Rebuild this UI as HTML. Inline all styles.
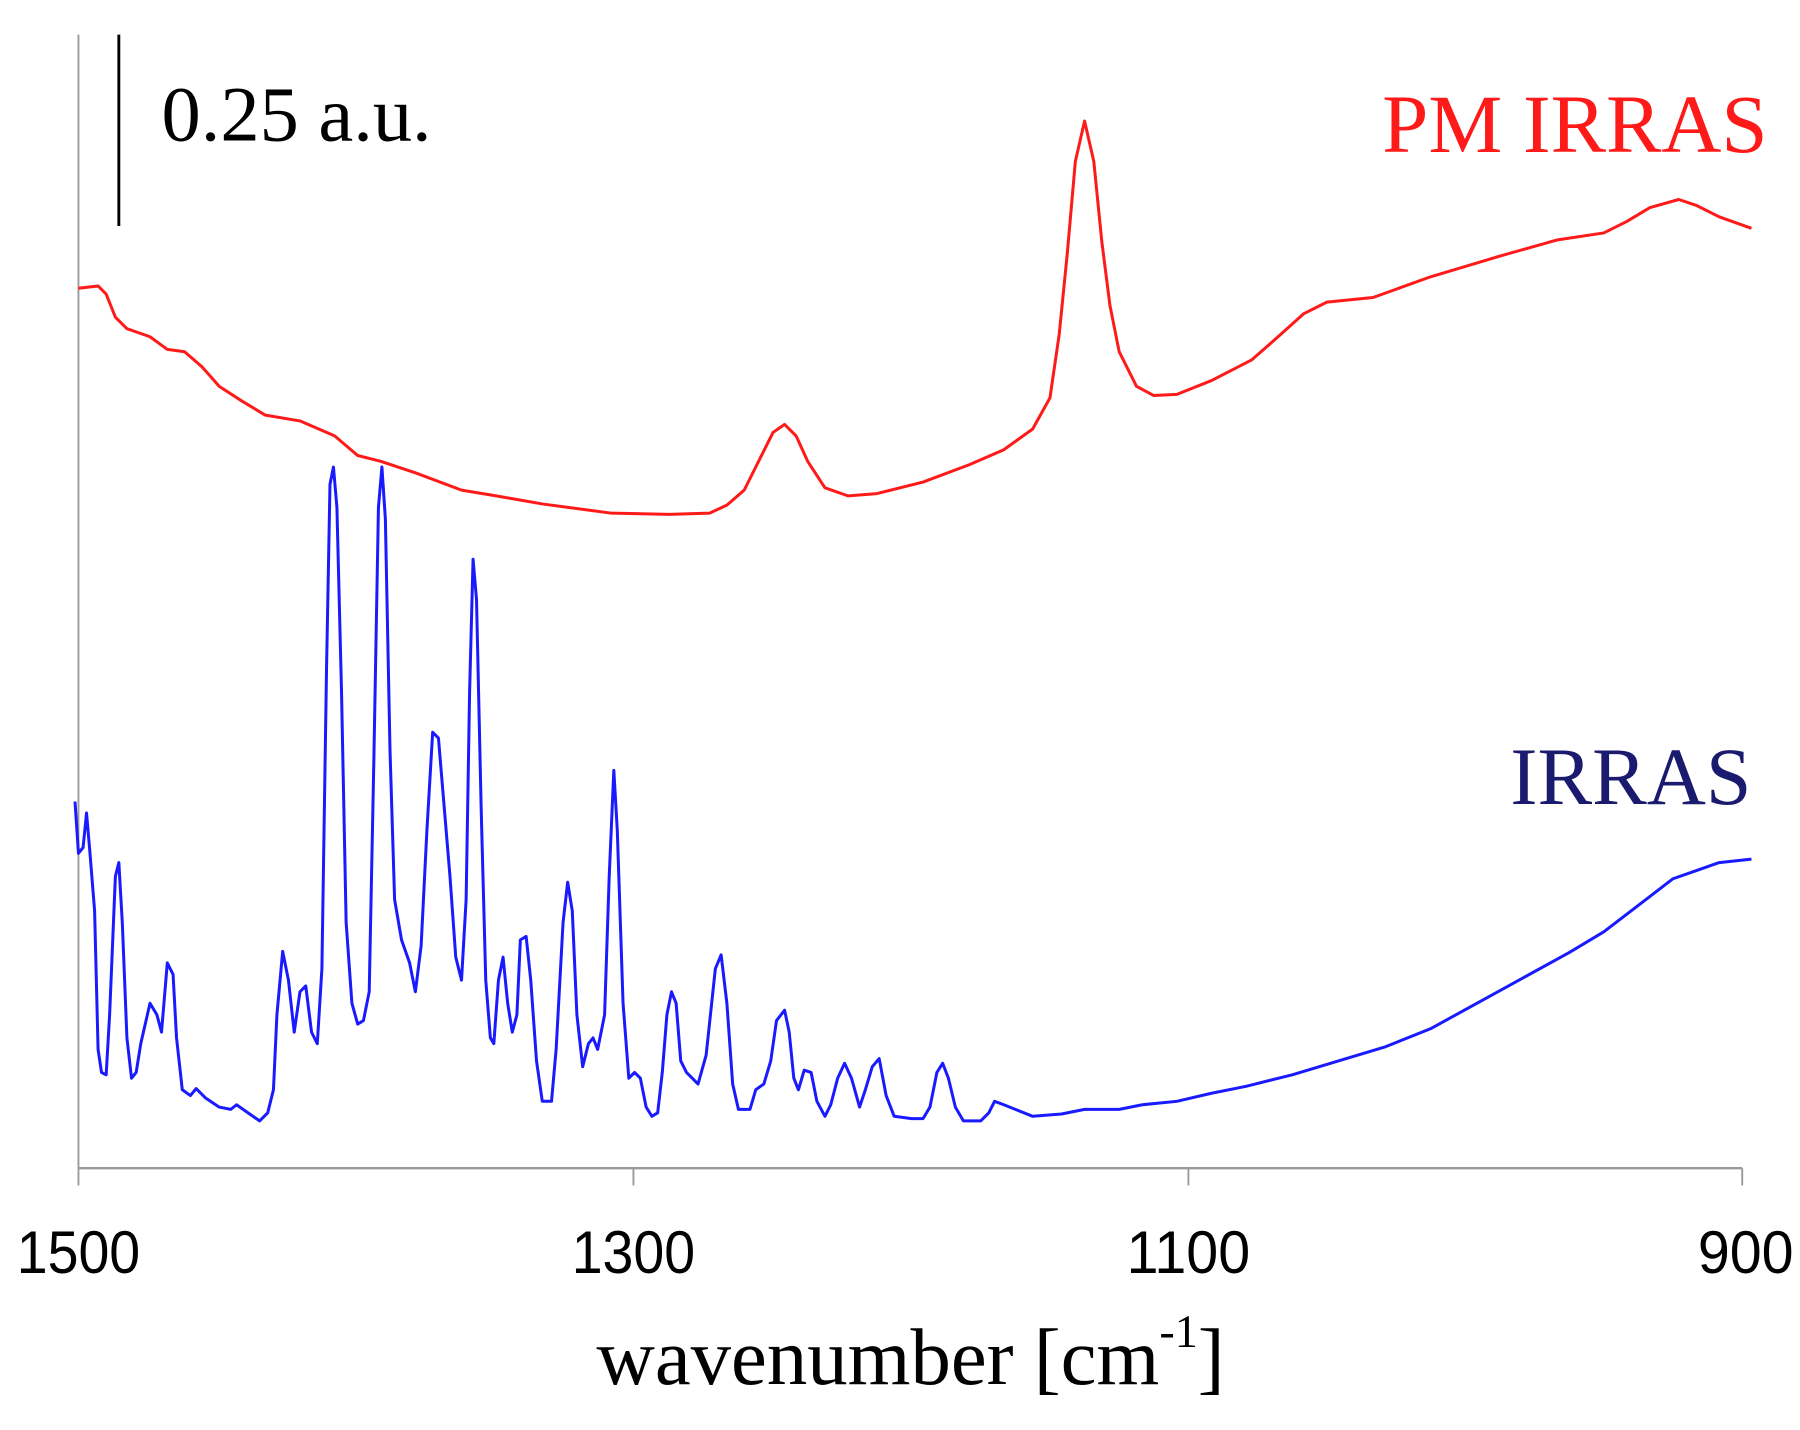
<!DOCTYPE html>
<html><head><meta charset="utf-8"><style>html,body{margin:0;padding:0;background:#fff}svg{display:block}</style></head>
<body>
<svg width="1800" height="1430" viewBox="0 0 1800 1430" xmlns="http://www.w3.org/2000/svg">
<rect width="1800" height="1430" fill="#fff"/>
<g transform="scale(1.1538,1.1532)">
<line x1="68" y1="30" x2="68" y2="1013" stroke="#999" stroke-width="1.6"/>
<line x1="68" y1="1013" x2="1510" y2="1013" stroke="#999" stroke-width="2"/>
<g stroke="#999" stroke-width="1.6">
<line x1="68" y1="1013" x2="68" y2="1028"/><line x1="549" y1="1013" x2="549" y2="1028"/>
<line x1="1030" y1="1013" x2="1030" y2="1028"/><line x1="1510" y1="1013" x2="1510" y2="1028"/>
</g>
<line x1="103" y1="30" x2="103" y2="196" stroke="#000" stroke-width="2.5"/>
<polyline fill="none" stroke="#ff1a1a" stroke-width="2.6" stroke-linejoin="round" points="68,250 85,248 92,255 100,275 110,285 130,292 145,303 160,305 175,318 190,335 210,348 230,360 260,365 290,378 310,395 330,400 360,410 400,425 430,430 470,437 530,445 580,446 615,445 630,438 645,425 660,395 670,375 680,368 690,378 700,400 715,423 735,430 760,428 800,418 840,403 870,390 895,372 910,345 918,290 925,220 932,140 940,105 948,140 955,210 962,265 970,305 985,335 1000,343 1020,342 1050,330 1085,312 1110,290 1130,272 1150,262 1190,258 1240,240 1300,222 1350,208 1390,202 1410,192 1430,180 1455,173 1470,178 1490,188 1518,198"/>
<polyline fill="none" stroke="#1a1aff" stroke-width="2.6" stroke-linejoin="round" points="65,695 68,740 72,735 75,705 78,740 82,790 85,910 88,930 92,932 95,880 100,760 103,748 106,800 110,900 114,935 118,930 122,905 130,870 136,880 140,895 145,835 150,845 153,900 158,945 165,950 170,944 178,952 190,960 200,962 205,958 215,965 225,972 232,965 237,945 240,880 245,825 250,850 255,895 260,860 265,855 270,895 275,905 279,840 283,580 286,420 289,405 292,440 296,600 300,800 305,870 310,888 315,885 320,860 324,660 328,440 331,405 334,450 338,650 342,780 348,815 355,835 360,860 365,820 370,720 375,635 380,640 385,700 390,760 395,830 400,850 404,780 407,600 410,485 413,520 417,700 421,850 425,900 428,905 432,850 436,830 440,870 444,895 448,880 451,815 456,812 460,850 465,920 470,955 478,955 482,910 488,800 492,765 496,790 500,880 505,925 510,905 514,900 518,910 524,880 528,760 532,668 535,720 540,870 545,935 550,930 555,935 560,960 565,968 570,965 574,930 578,880 582,860 586,870 590,920 595,930 600,935 605,940 612,915 620,840 625,828 630,870 635,940 640,962 650,962 655,945 662,940 668,920 673,885 680,876 684,895 688,935 692,945 697,928 703,930 708,955 715,968 720,958 726,935 732,922 738,935 745,960 750,945 756,925 762,918 768,950 775,968 790,970 800,970 806,960 812,930 817,922 822,935 828,960 835,972 850,972 857,965 862,955 870,958 880,962 895,968 920,966 940,962 970,962 990,958 1020,955 1050,948 1080,942 1120,932 1160,920 1200,908 1240,892 1280,870 1320,848 1360,826 1390,808 1420,785 1450,762 1470,755 1490,748 1518,745"/>
<g font-family="Liberation Sans, sans-serif" font-size="52" fill="#000" text-anchor="middle">
<text x="68" y="1104" textLength="107" lengthAdjust="spacingAndGlyphs">1500</text><text x="549" y="1104" textLength="107" lengthAdjust="spacingAndGlyphs">1300</text><text x="1030" y="1104" textLength="107" lengthAdjust="spacingAndGlyphs">1100</text><text x="1513" y="1104" textLength="83" lengthAdjust="spacingAndGlyphs">900</text>
</g>
<g font-family="Liberation Serif, serif">
<text x="140" y="122" font-size="68" fill="#000">0.25 a.u.</text>
<text x="1532" y="132" font-size="72" fill="#ff1a1a" text-anchor="end">PM IRRAS</text>
<text x="1518" y="697" font-size="71" fill="#1a1a6e" text-anchor="end">IRRAS</text>
<text x="517" y="1200" font-size="70" fill="#000">wavenumber [cm<tspan font-size="40" dy="-32">-1</tspan><tspan dy="32">]</tspan></text>
</g>
</g>
</svg>
</body></html>
